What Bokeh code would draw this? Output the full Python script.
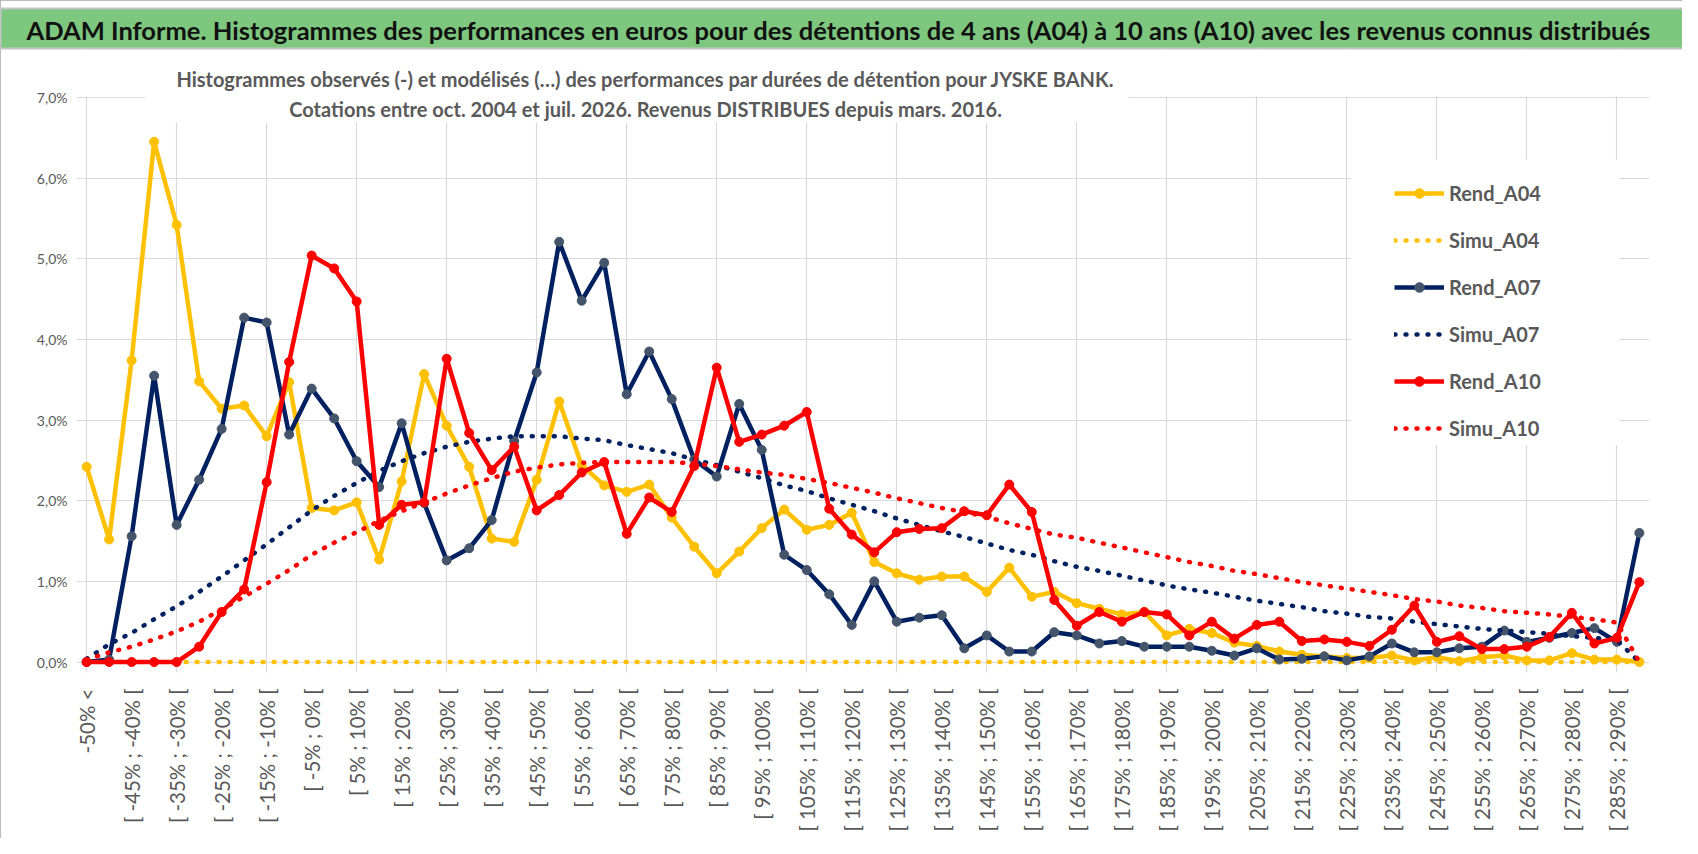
import math

from bokeh.embed import file_html
from bokeh.models import (
    BoxAnnotation,
    ColumnDataSource,
    FixedTicker,
    Label,
    Legend,
    LegendItem,
    Range1d,
)
from bokeh.plotting import figure
from bokeh.resources import INLINE

TITLE = ("ADAM Informe. Histogrammes des performances en euros pour des détentions "
         "de 4 ans (A04) à 10 ans (A10) avec les revenus connus distribués")
SUB1 = ("Histogrammes observés (-) et modélisés (…) des performances par durées "
        "de détention pour JYSKE BANK.")
SUB2 = "Cotations entre oct. 2004 et juil. 2026. Revenus DISTRIBUES depuis mars. 2016."

CATEGORIES = [
    "-50% <", "[ -50% ; -45% [", "[ -45% ; -40% [", "[ -40% ; -35% [", "[ -35% ; -30% [",
    "[ -30% ; -25% [", "[ -25% ; -20% [", "[ -20% ; -15% [", "[ -15% ; -10% [", "[ -10% ; -5% [",
    "[ -5% ; 0% [", "[ 0% ; 5% [", "[ 5% ; 10% [", "[ 10% ; 15% [", "[ 15% ; 20% [",
    "[ 20% ; 25% [", "[ 25% ; 30% [", "[ 30% ; 35% [", "[ 35% ; 40% [", "[ 40% ; 45% [",
    "[ 45% ; 50% [", "[ 50% ; 55% [", "[ 55% ; 60% [", "[ 60% ; 65% [", "[ 65% ; 70% [",
    "[ 70% ; 75% [", "[ 75% ; 80% [", "[ 80% ; 85% [", "[ 85% ; 90% [", "[ 90% ; 95% [",
    "[ 95% ; 100% [", "[ 100% ; 105% [", "[ 105% ; 110% [", "[ 110% ; 115% [", "[ 115% ; 120% [",
    "[ 120% ; 125% [", "[ 125% ; 130% [", "[ 130% ; 135% [", "[ 135% ; 140% [", "[ 140% ; 145% [",
    "[ 145% ; 150% [", "[ 150% ; 155% [", "[ 155% ; 160% [", "[ 160% ; 165% [", "[ 165% ; 170% [",
    "[ 170% ; 175% [", "[ 175% ; 180% [", "[ 180% ; 185% [", "[ 185% ; 190% [", "[ 190% ; 195% [",
    "[ 195% ; 200% [", "[ 200% ; 205% [", "[ 205% ; 210% [", "[ 210% ; 215% [", "[ 215% ; 220% [",
    "[ 220% ; 225% [", "[ 225% ; 230% [", "[ 230% ; 235% [", "[ 235% ; 240% [", "[ 240% ; 245% [",
    "[ 245% ; 250% [", "[ 250% ; 255% [", "[ 255% ; 260% [", "[ 260% ; 265% [", "[ 265% ; 270% [",
    "[ 270% ; 275% [", "[ 275% ; 280% [", "[ 280% ; 285% [", "[ 285% ; 290% [", "> 290%",
]

# values in %
REND_A04 = [
    2.42, 1.52, 3.74, 6.45, 5.42, 3.48, 3.14, 3.18, 2.80, 3.47,
    1.91, 1.88, 1.98, 1.27, 2.24, 3.57, 2.93, 2.42, 1.53, 1.49,
    2.26, 3.23, 2.44, 2.19, 2.11, 2.20, 1.79, 1.43, 1.10, 1.37,
    1.66, 1.89, 1.64, 1.70, 1.85, 1.24, 1.10, 1.02, 1.06, 1.06,
    0.87, 1.17, 0.81, 0.87, 0.73, 0.66, 0.59, 0.62, 0.33, 0.41,
    0.36, 0.24, 0.20, 0.13, 0.09, 0.07, 0.05, 0.05, 0.08, 0.02,
    0.06, 0.01, 0.06, 0.08, 0.02, 0.02, 0.11, 0.03, 0.03, 0.00,
]
SIMU_A04 = [
    0.00, 0.00, 0.00, 0.00, 0.00, 0.00, 0.00, 0.00, 0.00, 0.00,
    0.00, 0.00, 0.00, 0.00, 0.00, 0.00, 0.00, 0.00, 0.00, 0.00,
    0.00, 0.00, 0.00, 0.00, 0.00, 0.00, 0.00, 0.00, 0.00, 0.00,
    0.00, 0.00, 0.00, 0.00, 0.00, 0.00, 0.00, 0.00, 0.00, 0.00,
    0.00, 0.00, 0.00, 0.00, 0.00, 0.00, 0.00, 0.00, 0.00, 0.00,
    0.00, 0.00, 0.00, 0.00, 0.00, 0.00, 0.00, 0.00, 0.00, 0.00,
    0.00, 0.00, 0.00, 0.00, 0.00, 0.00, 0.00, 0.00, 0.00, 0.00,
]
REND_A07 = [
    0.00, 0.03, 1.56, 3.55, 1.70, 2.26, 2.89, 4.27, 4.21, 2.82,
    3.39, 3.02, 2.49, 2.17, 2.96, 1.97, 1.26, 1.41, 1.76, 2.74,
    3.59, 5.21, 4.48, 4.95, 3.32, 3.85, 3.26, 2.51, 2.30, 3.20,
    2.63, 1.33, 1.14, 0.84, 0.46, 1.00, 0.50, 0.55, 0.58, 0.17,
    0.33, 0.13, 0.13, 0.37, 0.33, 0.23, 0.26, 0.19, 0.19, 0.19,
    0.14, 0.08, 0.17, 0.03, 0.04, 0.07, 0.02, 0.07, 0.23, 0.12,
    0.12, 0.17, 0.19, 0.39, 0.25, 0.30, 0.36, 0.42, 0.25, 1.60,
]
SIMU_A07 = [
    0.04, 0.22, 0.36, 0.53, 0.69, 0.87, 1.06, 1.26, 1.46, 1.67,
    1.88, 2.06, 2.22, 2.37, 2.49, 2.59, 2.67, 2.73, 2.77, 2.80,
    2.80, 2.80, 2.77, 2.75, 2.69, 2.64, 2.59, 2.51, 2.44, 2.36,
    2.28, 2.19, 2.12, 2.03, 1.95, 1.87, 1.78, 1.70, 1.62, 1.55,
    1.47, 1.39, 1.33, 1.25, 1.18, 1.13, 1.07, 1.01, 0.95, 0.90,
    0.86, 0.81, 0.76, 0.72, 0.68, 0.63, 0.60, 0.56, 0.54, 0.50,
    0.47, 0.44, 0.41, 0.39, 0.37, 0.35, 0.32, 0.30, 0.27, 0.00,
]
REND_A10 = [
    0.00, 0.00, 0.00, 0.00, 0.00, 0.19, 0.62, 0.90, 2.23, 3.72,
    5.04, 4.88, 4.47, 1.70, 1.95, 1.98, 3.76, 2.84, 2.38, 2.67,
    1.88, 2.07, 2.35, 2.48, 1.59, 2.04, 1.86, 2.43, 3.65, 2.73,
    2.82, 2.93, 3.10, 1.90, 1.58, 1.36, 1.61, 1.65, 1.66, 1.87,
    1.82, 2.20, 1.86, 0.77, 0.45, 0.62, 0.50, 0.62, 0.59, 0.33,
    0.50, 0.29, 0.46, 0.50, 0.26, 0.28, 0.25, 0.20, 0.40, 0.70,
    0.25, 0.32, 0.16, 0.16, 0.19, 0.31, 0.61, 0.23, 0.30, 0.99,
]
SIMU_A10 = [
    0.03, 0.12, 0.19, 0.28, 0.38, 0.50, 0.65, 0.81, 0.97, 1.14,
    1.33, 1.48, 1.61, 1.75, 1.87, 1.98, 2.09, 2.19, 2.28, 2.36,
    2.41, 2.45, 2.47, 2.48, 2.48, 2.48, 2.48, 2.46, 2.43, 2.39,
    2.35, 2.32, 2.27, 2.22, 2.16, 2.10, 2.03, 1.97, 1.91, 1.86,
    1.80, 1.72, 1.65, 1.58, 1.54, 1.48, 1.42, 1.36, 1.30, 1.24,
    1.19, 1.13, 1.09, 1.04, 0.99, 0.95, 0.91, 0.87, 0.83, 0.78,
    0.75, 0.70, 0.67, 0.63, 0.61, 0.59, 0.56, 0.53, 0.49, 0.00,
]

Y_TICKS = [0, 1, 2, 3, 4, 5, 6, 7]
Y_LABELS = ["0,0%", "1,0%", "2,0%", "3,0%", "4,0%", "5,0%", "6,0%", "7,0%"]

GOLD = "#FFC000"
NAVY = "#002060"
NAVY_MARK = "#44546A"
RED = "#FF0000"
GREY_TXT = "#595959"

xs = list(range(len(CATEGORIES)))

p = figure(width=1682, height=838, x_range=Range1d(-0.45, 69.45), y_range=Range1d(-0.13, 7.545),
           min_border_left=76, min_border_right=33, min_border_top=53, min_border_bottom=166,
           toolbar_location=None, output_backend="svg")
p.outline_line_color = None
p.background_fill_color = "white"
p.border_fill_color = "white"
p.styles = {"outline": "1px solid #a6a6a6", "outline-offset": "-1px"}

# green heading band = title box stretched over the whole width
p.title.text = TITLE
p.title.align = "left"
p.title.offset = -76
p.title.standoff = 10
p.title.padding = dict(left=26, right=400, top=6, bottom=4)
p.title.background_fill_color = "#7EC77E"
p.title.border_line_color = "#c4c4c4"
p.title.border_line_width = 2
p.title.text_font = "Lato"
p.title.text_font_style = "bold"
p.title.text_font_size = "25.5px"
p.title.text_color = "#111111"

p.xgrid.ticker = FixedTicker(ticks=list(range(0, 70, 4)))
p.ygrid.ticker = FixedTicker(ticks=Y_TICKS)
p.grid.grid_line_color = "#d9d9d9"
p.grid.grid_line_width = 1.2

p.xaxis.ticker = FixedTicker(ticks=list(range(0, 70, 2)))
p.xaxis.major_label_overrides = {i: CATEGORIES[i] for i in range(0, 70, 2)}
p.xaxis.major_label_orientation = math.pi / 2
p.xaxis.major_label_standoff = 10
p.yaxis.ticker = FixedTicker(ticks=Y_TICKS)
p.yaxis.major_label_overrides = dict(zip(Y_TICKS, Y_LABELS))
p.yaxis.major_label_standoff = 3
for ax in (p.xaxis, p.yaxis):
    ax.axis_line_color = None
    ax.major_tick_line_color = None
    ax.minor_tick_line_color = None
    ax.major_label_text_font = "Lato"
    ax.major_label_text_color = GREY_TXT
p.xaxis.major_label_text_font_size = "20.5px"
p.yaxis.major_label_text_font_size = "14px"

# white patches: above 7%, behind the subtitle and behind the legend
p.add_layout(BoxAnnotation(left=-1, right=71, bottom=7.012, top=8, fill_color="white",
                           fill_alpha=1, line_color=None, level="underlay"))
p.add_layout(BoxAnnotation(left=2.6, right=46.3, bottom=6.69, top=8, fill_color="white",
                           fill_alpha=1, line_color=None, level="underlay"))
p.add_layout(BoxAnnotation(left=56.2, right=68.1, bottom=2.69, top=6.23, fill_color="white",
                           fill_alpha=1, line_color=None, level="underlay"))

source = ColumnDataSource(data=dict(
    x=xs, r04=REND_A04, s04=SIMU_A04, r07=REND_A07, s07=SIMU_A07, r10=REND_A10, s10=SIMU_A10,
))

items = []
for rend, simu, color, mark, name in [("r04", "s04", GOLD, GOLD, "A04"),
                                      ("r07", "s07", NAVY, NAVY_MARK, "A07"),
                                      ("r10", "s10", RED, RED, "A10")]:
    ln = p.line("x", rend, source=source, line_color=color, line_width=4.5, line_join="round")
    mk = p.scatter("x", rend, source=source, size=9, fill_color=mark, line_color=mark)
    dt = p.line("x", simu, source=source, line_color=color, line_width=4.5,
                line_dash="1 10", line_cap="round")
    items.append(LegendItem(label="Rend_" + name, renderers=[ln, mk]))
    items.append(LegendItem(label="Simu_" + name, renderers=[dt]))

legend = Legend(items=items, location=(1318, 232), glyph_width=50, glyph_height=24,
                label_height=24, label_standoff=5, spacing=23, padding=10,
                background_fill_color="white", background_fill_alpha=1,
                border_line_color=None, label_text_font="Lato",
                label_text_font_style="bold", label_text_font_size="20px",
                label_text_color=GREY_TXT)
p.add_layout(legend)

for txt, y in [(SUB1, 7.235), (SUB2, 6.863)]:
    p.add_layout(Label(x=24.84, y=y, text=txt, text_align="center", text_baseline="middle",
                       text_font="Lato", text_font_style="bold", text_font_size="20px",
                       text_color=GREY_TXT))

open("out.html", "w").write(file_html(p, INLINE))
